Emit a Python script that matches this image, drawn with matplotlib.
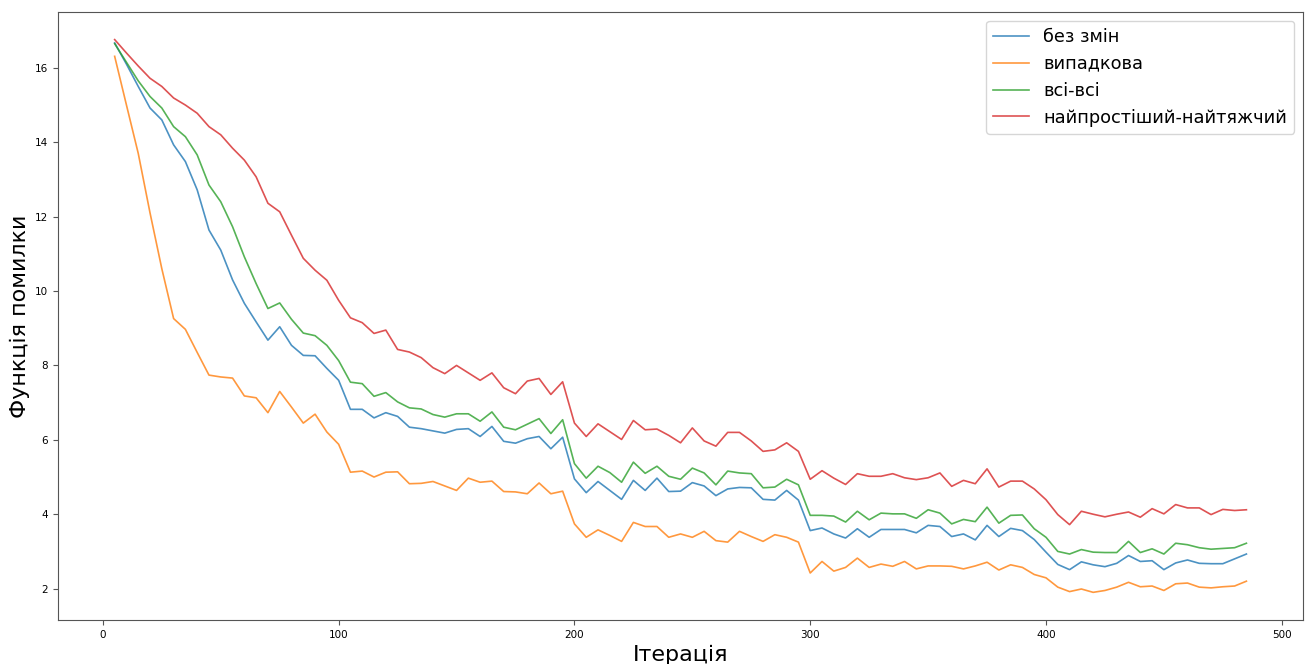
import numpy as np
import matplotlib
matplotlib.use("Agg")
import matplotlib.pyplot as plt

# iterations 5..485, step 5
iters = list(range(5, 490, 5))

no_change = [16.67, 16.1, 15.5, 14.92, 14.6, 13.93, 13.48, 12.72, 11.64, 11.1,
             10.3, 9.67, 9.17, 8.68, 9.04, 8.54, 8.27, 8.26, 7.92, 7.6,
             6.82, 6.82, 6.59, 6.73, 6.63, 6.34, 6.3, 6.24, 6.18, 6.28,
             6.3, 6.09, 6.36, 5.96, 5.91, 6.03, 6.09, 5.76, 6.07, 4.95,
             4.58, 4.88, 4.64, 4.4, 4.91, 4.64, 4.97, 4.61, 4.62, 4.85,
             4.76, 4.5, 4.68, 4.72, 4.71, 4.4, 4.38, 4.64, 4.38, 3.56,
             3.63, 3.47, 3.36, 3.61, 3.38, 3.59, 3.59, 3.59, 3.5, 3.7,
             3.67, 3.4, 3.47, 3.31, 3.7, 3.4, 3.62, 3.56, 3.32, 2.98,
             2.65, 2.51, 2.72, 2.64, 2.59, 2.68, 2.89, 2.73, 2.75, 2.51,
             2.69, 2.77, 2.68, 2.67, 2.67, 2.8, 2.93]

random_ = [16.31, 15.0, 13.7, 12.1, 10.6, 9.26, 8.97, 8.35, 7.74, 7.69,
           7.66, 7.18, 7.13, 6.73, 7.3, 6.88, 6.45, 6.69, 6.21, 5.88,
           5.13, 5.16, 5.0, 5.13, 5.14, 4.82, 4.83, 4.88, 4.76, 4.64,
           4.97, 4.86, 4.89, 4.61, 4.6, 4.55, 4.84, 4.55, 4.62, 3.74,
           3.38, 3.58, 3.43, 3.27, 3.78, 3.67, 3.67, 3.38, 3.47, 3.38,
           3.54, 3.29, 3.25, 3.54, 3.4, 3.27, 3.45, 3.38, 3.25, 2.42,
           2.73, 2.47, 2.57, 2.82, 2.57, 2.66, 2.6, 2.73, 2.53, 2.61,
           2.61, 2.6, 2.53, 2.61, 2.71, 2.5, 2.64, 2.57, 2.38, 2.29,
           2.04, 1.92, 1.99, 1.9, 1.95, 2.04, 2.17, 2.05, 2.07, 1.95,
           2.13, 2.15, 2.04, 2.02, 2.05, 2.07, 2.2]

all_all = [16.65, 16.15, 15.65, 15.23, 14.92, 14.42, 14.15, 13.66, 12.85, 12.4,
           11.73, 10.92, 10.2, 9.53, 9.68, 9.24, 8.87, 8.8, 8.54, 8.13,
           7.55, 7.51, 7.17, 7.27, 7.02, 6.86, 6.83, 6.68, 6.61, 6.7,
           6.7, 6.5, 6.75, 6.34, 6.27, 6.42, 6.57, 6.17, 6.54, 5.36,
           4.97, 5.29, 5.12, 4.86, 5.4, 5.1, 5.29, 5.02, 4.94, 5.24,
           5.11, 4.79, 5.16, 5.11, 5.09, 4.71, 4.73, 4.94, 4.79, 3.97,
           3.97, 3.95, 3.79, 4.08, 3.85, 4.03, 4.01, 4.01, 3.89, 4.12,
           4.03, 3.74, 3.86, 3.8, 4.19, 3.76, 3.97, 3.98, 3.61, 3.38,
           3.0, 2.93, 3.05, 2.98, 2.97, 2.97, 3.27, 2.97, 3.07, 2.93,
           3.22, 3.18, 3.1, 3.06, 3.08, 3.1, 3.22]

easy_hard = [16.76, 16.4, 16.05, 15.72, 15.5, 15.19, 15.0, 14.78, 14.42, 14.2,
             13.84, 13.52, 13.07, 12.36, 12.13, 11.5, 10.88, 10.56, 10.29, 9.75,
             9.28, 9.15, 8.86, 8.95, 8.43, 8.36, 8.21, 7.94, 7.78, 8.0,
             7.8, 7.6, 7.8, 7.4, 7.24, 7.58, 7.65, 7.22, 7.56, 6.45,
             6.09, 6.43, 6.22, 6.01, 6.52, 6.27, 6.29, 6.12, 5.92, 6.32,
             5.97, 5.83, 6.2, 6.2, 5.97, 5.69, 5.73, 5.92, 5.69, 4.94,
             5.17, 4.97, 4.8, 5.09, 5.02, 5.02, 5.09, 4.98, 4.93, 4.98,
             5.11, 4.75, 4.91, 4.82, 5.22, 4.73, 4.89, 4.89, 4.68, 4.39,
             3.99, 3.72, 4.08, 4.0, 3.93, 4.0, 4.06, 3.92, 4.15, 4.01,
             4.26, 4.17, 4.17, 3.99, 4.13, 4.1, 4.12]

labels = ["без змін", "випадкова", "всі-всі", "найпростіший-найтяжчий"]

fig = plt.figure(figsize=(13.11, 6.64), dpi=100)
ax = fig.add_axes([0.0443, 0.0663, 0.9496, 0.9157])

for ys, lab in zip([no_change, random_, all_all, easy_hard], labels):
    ax.plot(iters, ys, label=lab, alpha=0.8, linewidth=1.2)

ax.set_xlabel("Ітерація", fontsize=16)
ax.set_ylabel("Функція помилки", fontsize=16)
ax.tick_params(labelsize=7.5, color="#555555")
for s in ax.spines.values():
    s.set_color("#555555")
ax.legend(fontsize=12.8, loc="upper right")

fig.savefig("out.png", dpi=100)
